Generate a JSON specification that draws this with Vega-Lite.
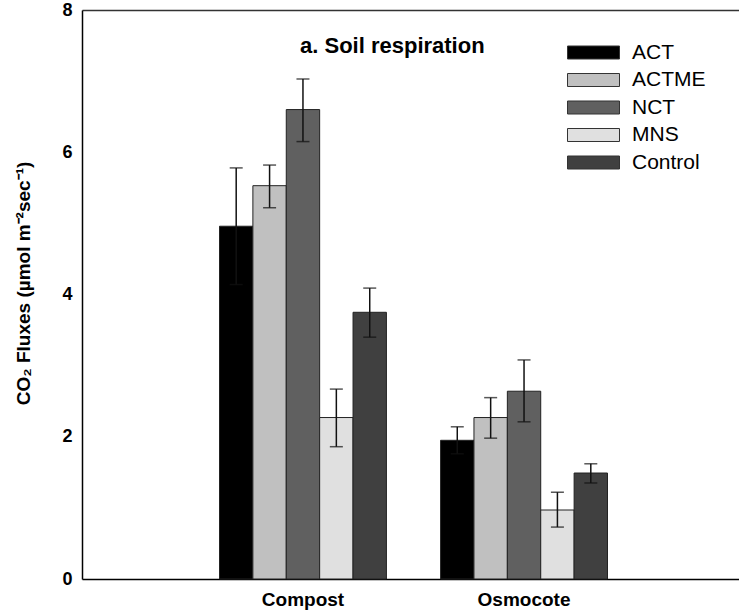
{
  "$schema": "https://vega.github.io/schema/vega-lite/v6.json",
  "width": 657,
  "height": 569,
  "autosize": {"type": "none"},
  "padding": {"left": 82, "top": 10, "right": 0, "bottom": 34},
  "background": "white",
  "config": {
    "font": "Liberation Sans",
    "view": {"stroke": null}
  },
  "title": {
    "text": "a. Soil respiration",
    "anchor": "start",
    "frame": "group",
    "baseline": "middle",
    "dx": 218,
    "dy": 67,
    "offset": 0,
    "fontSize": 22,
    "fontWeight": "bold",
    "font": "Liberation Sans",
    "color": "black"
  },
  "data": {
    "values": [
      {"fert": "Compost", "trt": "ACT", "flux": 4.96, "lo": 4.14, "hi": 5.78},
      {"fert": "Compost", "trt": "ACTME", "flux": 5.53, "lo": 5.22, "hi": 5.82},
      {"fert": "Compost", "trt": "NCT", "flux": 6.60, "lo": 6.15, "hi": 7.03},
      {"fert": "Compost", "trt": "MNS", "flux": 2.27, "lo": 1.86, "hi": 2.67},
      {"fert": "Compost", "trt": "Control", "flux": 3.75, "lo": 3.40, "hi": 4.09},
      {"fert": "Osmocote", "trt": "ACT", "flux": 1.95, "lo": 1.76, "hi": 2.14},
      {"fert": "Osmocote", "trt": "ACTME", "flux": 2.27, "lo": 1.98, "hi": 2.55},
      {"fert": "Osmocote", "trt": "NCT", "flux": 2.64, "lo": 2.21, "hi": 3.08},
      {"fert": "Osmocote", "trt": "MNS", "flux": 0.97, "lo": 0.73, "hi": 1.22},
      {"fert": "Osmocote", "trt": "Control", "flux": 1.49, "lo": 1.35, "hi": 1.62}
    ]
  },
  "encoding": {
    "x": {
      "field": "fert",
      "type": "nominal",
      "axis": null,
      "scale": {"domain": ["Compost", "Osmocote"], "range": [0, 663], "paddingInner": 0.245, "paddingOuter": 0.622}
    },
    "xOffset": {
      "field": "trt",
      "type": "nominal",
      "scale": {"domain": ["ACT", "ACTME", "NCT", "MNS", "Control"], "paddingInner": 0, "paddingOuter": 0}
    }
  },
  "resolve": {"axis": {"x": "independent"}},
  "layer": [
    {
      "mark": {"type": "bar", "stroke": "#222222", "strokeWidth": 1},
      "encoding": {
        "x": {
          "field": "fert",
          "type": "nominal",
          "axis": {
            "title": null,
            "labelAngle": 0,
            "ticks": false,
            "labelPadding": 11,
            "labelFontSize": 19,
            "labelFontWeight": "bold",
            "labelColor": "black",
            "domainColor": "black",
            "domainWidth": 1.5
          }
        },
        "y": {
          "field": "flux",
          "type": "quantitative",
          "scale": {"domain": [0, 8], "nice": false},
          "axis": {
            "values": [0, 2, 4, 6, 8],
            "format": "d",
            "grid": false,
            "ticks": false,
            "labelPadding": 10,
            "labelFontSize": 18,
            "labelFontWeight": "bold",
            "labelColor": "black",
            "domainColor": "black",
            "domainWidth": 1.5,
            "title": "CO₂ Fluxes (µmol m⁻²sec⁻¹)",
            "titleFontSize": 19,
            "titleFontWeight": "bold",
            "titleColor": "black",
            "titlePadding": 28,
            "titleY": 273
          }
        },
        "color": {
          "field": "trt",
          "type": "nominal",
          "scale": {
            "domain": ["ACT", "ACTME", "NCT", "MNS", "Control"],
            "range": ["#000000", "#c0c0c0", "#606060", "#e0e0e0", "#404040"]
          },
          "legend": {
            "title": null,
            "orient": "none",
            "legendX": 501,
            "legendY": 32,
            "padding": 0,
            "symbolType": "M-4,-1H4V1H-4Z",
            "symbolSize": 169,
            "symbolStrokeColor": "#333333",
            "symbolStrokeWidth": 1,
            "symbolOpacity": 1,
            "labelOffset": 28,
            "labelFontSize": 21,
            "labelColor": "black",
            "labelFont": "Liberation Sans",
            "rowPadding": 5.5
          }
        }
      }
    },
    {
      "mark": {"type": "rule", "color": "#111111", "strokeWidth": 1.5},
      "encoding": {
        "x": {
          "field": "fert",
          "type": "nominal",
          "axis": {
            "orient": "top",
            "title": null,
            "labels": false,
            "ticks": false,
            "domainColor": "#333333",
            "domainWidth": 1.5
          }
        },
        "y": {"field": "lo", "type": "quantitative"},
        "y2": {"field": "hi"}
      }
    },
    {
      "mark": {"type": "tick", "color": "#111111", "thickness": 1.5, "size": 13, "orient": "horizontal"},
      "encoding": {
        "y": {"field": "lo", "type": "quantitative"}
      }
    },
    {
      "mark": {"type": "tick", "color": "#111111", "thickness": 1.5, "size": 13, "orient": "horizontal"},
      "encoding": {
        "y": {"field": "hi", "type": "quantitative"}
      }
    }
  ]
}
